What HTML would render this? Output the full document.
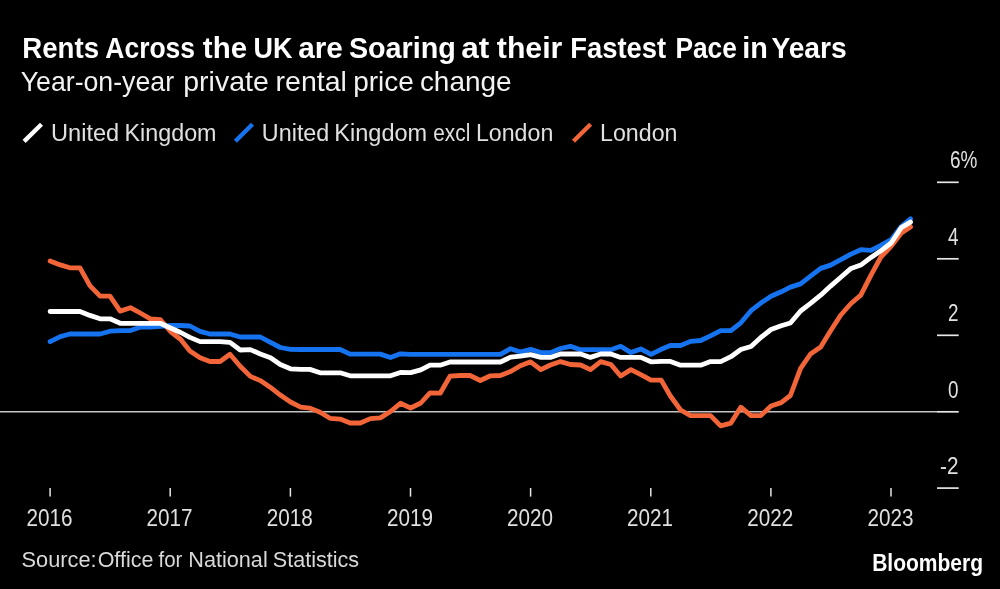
<!DOCTYPE html>
<html><head><meta charset="utf-8">
<style>
html,body{margin:0;padding:0;background:#000;width:1000px;height:589px;overflow:hidden}
svg{display:block;will-change:transform}
text{font-family:"Liberation Sans",sans-serif}
.title{font-weight:bold;font-size:28.4px;fill:#fff}
.sub{font-size:25.2px;fill:#f2f2f2}
.leg{font-size:23px;fill:#e0e0e0}
.ax{font-size:23px;fill:#e0e0e0}
.src{font-size:21px;fill:#d9d9d9}
.logo{font-weight:bold;font-size:22.5px;fill:#fff}
</style></head><body>
<svg width="1000" height="589" viewBox="0 0 1000 589">
<rect width="1000" height="589" fill="#000"/>
<text x="22.24" y="58.40" class="title" style="font-size:30.40px" textLength="76.79" lengthAdjust="spacingAndGlyphs">Rents</text><text x="105.29" y="58.40" class="title" style="font-size:30.40px" textLength="89.79" lengthAdjust="spacingAndGlyphs">Across</text><text x="202.85" y="58.40" class="title" style="font-size:30.40px" textLength="44.20" lengthAdjust="spacingAndGlyphs">the</text><text x="253.49" y="58.40" class="title" style="font-size:30.40px" textLength="38.98" lengthAdjust="spacingAndGlyphs">UK</text><text x="298.21" y="58.40" class="title" style="font-size:30.40px" textLength="44.74" lengthAdjust="spacingAndGlyphs">are</text><text x="348.88" y="58.40" class="title" style="font-size:30.40px" textLength="106.97" lengthAdjust="spacingAndGlyphs">Soaring</text><text x="461.21" y="58.40" class="title" style="font-size:30.40px" textLength="28.06" lengthAdjust="spacingAndGlyphs">at</text><text x="496.83" y="58.40" class="title" style="font-size:30.40px" textLength="65.51" lengthAdjust="spacingAndGlyphs">their</text><text x="570.24" y="58.40" class="title" style="font-size:30.40px" textLength="95.95" lengthAdjust="spacingAndGlyphs">Fastest</text><text x="675.41" y="58.40" class="title" style="font-size:30.40px" textLength="61.49" lengthAdjust="spacingAndGlyphs">Pace</text><text x="742.13" y="58.40" class="title" style="font-size:30.40px" textLength="25.62" lengthAdjust="spacingAndGlyphs">in</text><text x="771.39" y="58.40" class="title" style="font-size:30.40px" textLength="75.41" lengthAdjust="spacingAndGlyphs">Years</text>
<text x="20.71" y="90.70" class="sub" style="font-size:28.00px" textLength="153.33" lengthAdjust="spacingAndGlyphs">Year-on-year</text><text x="183.28" y="90.70" class="sub" style="font-size:28.00px" textLength="85.52" lengthAdjust="spacingAndGlyphs">private</text><text x="275.59" y="90.70" class="sub" style="font-size:28.00px" textLength="71.36" lengthAdjust="spacingAndGlyphs">rental</text><text x="353.20" y="90.70" class="sub" style="font-size:28.00px" textLength="60.64" lengthAdjust="spacingAndGlyphs">price</text><text x="419.89" y="90.70" class="sub" style="font-size:28.00px" textLength="91.69" lengthAdjust="spacingAndGlyphs">change</text>
<line x1="24.1" y1="141.4" x2="41.5" y2="124.2" stroke="#ffffff" stroke-width="4.3"/>
<text x="51.02" y="140.50" class="leg" style="font-size:23.00px" textLength="68.16" lengthAdjust="spacingAndGlyphs">United</text><text x="124.51" y="140.50" class="leg" style="font-size:23.00px" textLength="92.03" lengthAdjust="spacingAndGlyphs">Kingdom</text>
<line x1="235.4" y1="141.3" x2="252.5" y2="124.2" stroke="#1673ef" stroke-width="4.3"/>
<text x="261.88" y="140.50" class="leg" style="font-size:23.00px" textLength="67.43" lengthAdjust="spacingAndGlyphs">United</text><text x="334.30" y="140.50" class="leg" style="font-size:23.00px" textLength="92.93" lengthAdjust="spacingAndGlyphs">Kingdom</text><text x="433.31" y="140.50" class="leg" style="font-size:23.00px" textLength="36.97" lengthAdjust="spacingAndGlyphs">excl</text><text x="475.91" y="140.50" class="leg" style="font-size:23.00px" textLength="77.38" lengthAdjust="spacingAndGlyphs">London</text>
<line x1="573.5" y1="141.3" x2="590.6" y2="124.3" stroke="#f26539" stroke-width="4.3"/>
<text x="600.07" y="140.50" class="leg" style="font-size:23.00px" textLength="77.41" lengthAdjust="spacingAndGlyphs">London</text>
<text x="950" y="168.0" class="ax" textLength="27.4" lengthAdjust="spacingAndGlyphs">6%</text><line x1="937" x2="958.7" y1="182.3" y2="182.3" stroke="#e6e6e6" stroke-width="1.7"/><text x="958.5" y="244.5" class="ax" text-anchor="end" textLength="10.5" lengthAdjust="spacingAndGlyphs">4</text><line x1="937" x2="958.7" y1="258.8" y2="258.8" stroke="#e6e6e6" stroke-width="1.7"/><text x="958.5" y="321.0" class="ax" text-anchor="end" textLength="10.5" lengthAdjust="spacingAndGlyphs">2</text><line x1="937" x2="958.7" y1="335.3" y2="335.3" stroke="#e6e6e6" stroke-width="1.7"/><text x="958.5" y="397.5" class="ax" text-anchor="end" textLength="10.5" lengthAdjust="spacingAndGlyphs">0</text><line x1="937" x2="958.7" y1="411.8" y2="411.8" stroke="#e6e6e6" stroke-width="1.7"/><text x="958.5" y="473.8" class="ax" text-anchor="end" textLength="18.4" lengthAdjust="spacingAndGlyphs">-2</text><line x1="937" x2="958.7" y1="488.1" y2="488.1" stroke="#e6e6e6" stroke-width="1.7"/>
<line x1="0" x2="937" y1="411.8" y2="411.8" stroke="#c4c4c4" stroke-width="1.6"/>
<line x1="50.1" x2="50.1" y1="488" y2="496.6" stroke="#e6e6e6" stroke-width="1.5"/><text x="49.5" y="525.8" class="ax" text-anchor="middle" textLength="46.0" lengthAdjust="spacingAndGlyphs">2016</text><line x1="170.2" x2="170.2" y1="488" y2="496.6" stroke="#e6e6e6" stroke-width="1.5"/><text x="169.6" y="525.8" class="ax" text-anchor="middle" textLength="46.0" lengthAdjust="spacingAndGlyphs">2017</text><line x1="290.4" x2="290.4" y1="488" y2="496.6" stroke="#e6e6e6" stroke-width="1.5"/><text x="289.8" y="525.8" class="ax" text-anchor="middle" textLength="46.0" lengthAdjust="spacingAndGlyphs">2018</text><line x1="410.5" x2="410.5" y1="488" y2="496.6" stroke="#e6e6e6" stroke-width="1.5"/><text x="409.9" y="525.8" class="ax" text-anchor="middle" textLength="46.0" lengthAdjust="spacingAndGlyphs">2019</text><line x1="530.6" x2="530.6" y1="488" y2="496.6" stroke="#e6e6e6" stroke-width="1.5"/><text x="530.0" y="525.8" class="ax" text-anchor="middle" textLength="46.0" lengthAdjust="spacingAndGlyphs">2020</text><line x1="650.8" x2="650.8" y1="488" y2="496.6" stroke="#e6e6e6" stroke-width="1.5"/><text x="650.1" y="525.8" class="ax" text-anchor="middle" textLength="46.0" lengthAdjust="spacingAndGlyphs">2021</text><line x1="770.9" x2="770.9" y1="488" y2="496.6" stroke="#e6e6e6" stroke-width="1.5"/><text x="770.3" y="525.8" class="ax" text-anchor="middle" textLength="46.0" lengthAdjust="spacingAndGlyphs">2022</text><line x1="891.0" x2="891.0" y1="488" y2="496.6" stroke="#e6e6e6" stroke-width="1.5"/><text x="890.4" y="525.8" class="ax" text-anchor="middle" textLength="46.0" lengthAdjust="spacingAndGlyphs">2023</text>
<polyline points="50.1,261.0 60.3,264.9 69.8,267.8 80.0,267.8 89.9,285.7 100.1,296.2 110.0,296.2 120.2,311.1 130.4,307.7 140.2,313.0 150.4,318.8 160.3,319.6 170.5,331.5 180.7,339.5 189.9,350.9 200.1,357.7 209.9,361.5 220.1,361.5 230.0,354.3 240.2,366.2 250.4,376.4 260.3,380.6 270.5,387.4 280.3,395.1 290.5,402.0 300.7,407.2 309.9,408.1 320.1,412.3 330.0,418.3 340.2,419.1 350.1,423.0 360.3,423.0 370.4,418.6 380.3,417.9 390.5,411.5 400.4,403.3 410.6,408.0 420.8,403.0 430.0,392.8 440.2,393.2 450.0,376.2 460.2,375.5 470.1,375.5 480.3,380.5 490.5,375.8 500.4,375.5 510.6,371.5 520.4,365.7 530.6,361.8 540.8,369.6 550.4,365.0 560.5,361.6 570.4,364.5 580.6,365.0 590.5,369.6 600.7,361.6 610.9,364.5 620.7,376.0 630.9,369.6 640.8,374.7 651.0,380.2 661.2,380.1 670.4,396.0 680.6,410.0 690.5,415.6 700.7,415.6 710.5,415.6 720.7,425.9 730.9,423.1 740.8,407.2 751.0,415.6 760.8,415.6 771.0,406.0 781.2,402.6 790.4,395.5 800.6,368.4 810.5,354.0 820.7,347.0 830.6,330.8 840.8,315.0 851.0,303.5 860.8,295.2 871.0,275.1 880.9,257.0 891.1,246.4 901.3,233.1 910.5,226.9" fill="none" stroke="#f26539" stroke-width="4.8" stroke-linejoin="round" stroke-linecap="round"/>
<polyline points="50.1,341.7 60.3,336.6 69.8,334.0 80.0,334.0 89.9,334.0 100.1,334.0 110.0,331.2 120.2,330.6 130.4,330.6 140.2,327.2 150.4,327.2 160.3,326.3 170.5,325.5 180.7,325.5 189.9,326.0 200.1,331.4 209.9,334.0 220.1,334.0 230.0,334.0 240.2,337.0 250.4,337.0 260.3,337.0 270.5,342.4 280.3,347.5 290.5,349.3 300.7,349.5 309.9,349.5 320.1,349.5 330.0,349.5 340.2,349.5 350.1,354.1 360.3,354.1 370.4,354.1 380.3,354.1 390.5,357.5 400.4,353.8 410.6,354.3 420.8,354.3 430.0,354.3 440.2,354.3 450.0,354.3 460.2,354.3 470.1,354.3 480.3,354.3 490.5,354.3 500.4,354.3 510.6,348.7 520.4,352.1 530.6,349.3 540.8,352.6 550.4,352.6 560.5,348.5 570.4,346.3 580.6,349.7 590.5,349.7 600.7,349.7 610.9,349.7 620.7,346.3 630.9,352.6 640.8,348.9 651.0,354.4 661.2,349.3 670.4,345.5 680.6,345.5 690.5,341.4 700.7,340.5 710.5,335.8 720.7,330.6 730.9,330.6 740.8,322.8 751.0,310.7 760.8,303.1 771.0,296.3 781.2,291.8 790.4,287.1 800.6,283.9 810.5,276.2 820.7,268.4 830.6,265.1 840.8,259.6 851.0,254.1 860.8,249.7 871.0,250.3 880.9,245.3 891.1,239.7 901.3,226.5 910.5,218.8" fill="none" stroke="#1673ef" stroke-width="4.8" stroke-linejoin="round" stroke-linecap="round"/>
<polyline points="50.1,311.5 60.3,311.5 69.8,311.5 80.0,311.5 89.9,315.4 100.1,318.8 110.0,318.8 120.2,323.3 130.4,323.3 140.2,323.3 150.4,323.3 160.3,323.3 170.5,328.0 180.7,332.5 189.9,337.4 200.1,341.6 209.9,341.6 220.1,341.6 230.0,342.4 240.2,350.0 250.4,349.6 260.3,354.0 270.5,357.7 280.3,364.5 290.5,368.8 300.7,369.4 309.9,369.4 320.1,372.8 330.0,372.8 340.2,372.8 350.1,375.8 360.3,375.8 370.4,375.8 380.3,375.8 390.5,375.8 400.4,372.4 410.6,372.6 420.8,369.9 430.0,365.2 440.2,365.2 450.0,362.0 460.2,362.0 470.1,362.0 480.3,362.0 490.5,362.0 500.4,362.0 510.6,357.2 520.4,356.1 530.6,354.6 540.8,357.4 550.4,357.4 560.5,354.0 570.4,354.0 580.6,354.0 590.5,357.4 600.7,354.0 610.9,354.0 620.7,357.4 630.9,357.4 640.8,357.4 651.0,361.8 661.2,361.4 670.4,361.4 680.6,365.2 690.5,365.2 700.7,365.2 710.5,361.6 720.7,361.6 730.9,356.7 740.8,349.5 751.0,346.5 760.8,337.5 771.0,329.5 781.2,325.7 790.4,323.0 800.6,311.0 810.5,303.4 820.7,295.2 830.6,286.1 840.8,277.3 851.0,268.4 860.8,265.1 871.0,257.4 880.9,250.8 891.1,243.0 901.3,227.6 910.5,222.1" fill="none" stroke="#ffffff" stroke-width="4.8" stroke-linejoin="round" stroke-linecap="round"/>
<text x="21.57" y="566.90" class="src" style="font-size:22.00px" textLength="75.05" lengthAdjust="spacingAndGlyphs">Source:</text><text x="97.63" y="566.90" class="src" style="font-size:22.00px" textLength="55.77" lengthAdjust="spacingAndGlyphs">Office</text><text x="158.53" y="566.90" class="src" style="font-size:22.00px" textLength="23.86" lengthAdjust="spacingAndGlyphs">for</text><text x="188.24" y="566.90" class="src" style="font-size:22.00px" textLength="79.48" lengthAdjust="spacingAndGlyphs">National</text><text x="272.87" y="566.90" class="src" style="font-size:22.00px" textLength="86.30" lengthAdjust="spacingAndGlyphs">Statistics</text>
<text x="872.15" y="571.30" class="logo" style="font-size:23.00px" textLength="110.93" lengthAdjust="spacingAndGlyphs">Bloomberg</text>
</svg>
</body></html>
